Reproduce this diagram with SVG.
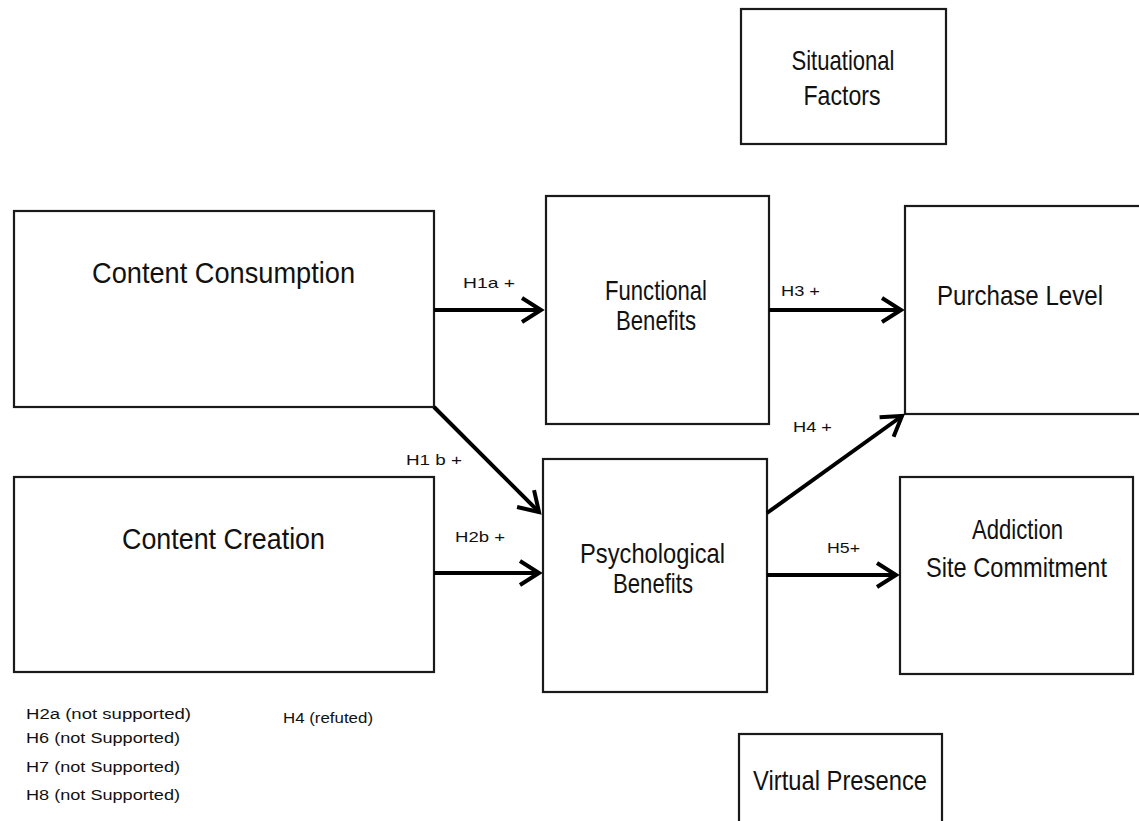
<svg xmlns="http://www.w3.org/2000/svg" width="1139" height="821" viewBox="0 0 1139 821">
<style>
.box{fill:#fff;stroke:#1a1a1a;stroke-width:2.2}
.t{font-family:"Liberation Sans",Arial,sans-serif;fill:#111;text-anchor:middle}
.big{font-size:30px}
.mid{font-size:28px}
.lab{font-family:"Liberation Sans",Arial,sans-serif;fill:#111;font-size:15px}
.note{font-family:"Liberation Sans",Arial,sans-serif;fill:#111;font-size:14px}
.c{stroke:#000;stroke-width:4;fill:none}
</style>
<defs>
<marker id="arr" markerUnits="userSpaceOnUse" markerWidth="40" markerHeight="40" viewBox="-30 -20 40 40" refX="0" refY="0" orient="auto" overflow="visible">
<path d="M-19,-12 L0,0 L-19,12" fill="none" stroke="#000" stroke-width="4" stroke-linejoin="miter" stroke-linecap="butt"/>
</marker>
</defs>
<rect width="1139" height="821" fill="#fff"/>

<g id="situational">
<rect class="box" x="741" y="9" width="205" height="135"/>
<text class="t mid" x="843" y="70" textLength="103" lengthAdjust="spacingAndGlyphs">Situational</text>
<text class="t mid" x="842" y="105" textLength="77" lengthAdjust="spacingAndGlyphs">Factors</text>
</g>

<g id="content-consumption">
<rect class="box" x="14" y="211" width="420" height="196"/>
<text class="t big" x="223.5" y="283" textLength="263" lengthAdjust="spacingAndGlyphs">Content  Consumption</text>
</g>

<g id="content-creation">
<rect class="box" x="14" y="477" width="420" height="195"/>
<text class="t big" x="223.5" y="549" textLength="203" lengthAdjust="spacingAndGlyphs">Content  Creation</text>
</g>

<g id="functional-benefits">
<rect class="box" x="546" y="196" width="223" height="228"/>
<text class="t mid" x="656" y="300" textLength="102" lengthAdjust="spacingAndGlyphs">Functional</text>
<text class="t mid" x="656" y="330" textLength="80" lengthAdjust="spacingAndGlyphs">Benefits</text>
</g>

<g id="psychological-benefits">
<rect class="box" x="543" y="459" width="224" height="233"/>
<text class="t mid" x="652.5" y="563" textLength="145" lengthAdjust="spacingAndGlyphs">Psychological</text>
<text class="t mid" x="653" y="593" textLength="80" lengthAdjust="spacingAndGlyphs">Benefits</text>
</g>

<g id="purchase-level">
<rect class="box" x="905" y="206" width="260" height="208"/>
<text class="t mid" x="1020" y="305" textLength="166" lengthAdjust="spacingAndGlyphs">Purchase Level</text>
</g>

<g id="addiction">
<rect class="box" x="900" y="477" width="233" height="197"/>
<text class="t mid" x="1017.5" y="539" textLength="91" lengthAdjust="spacingAndGlyphs">Addiction</text>
<text class="t mid" x="1016.5" y="577" textLength="181" lengthAdjust="spacingAndGlyphs">Site Commitment</text>
</g>

<g id="virtual-presence">
<rect class="box" x="739" y="734" width="203" height="120"/>
<text class="t mid" x="840" y="790" textLength="174" lengthAdjust="spacingAndGlyphs">Virtual  Presence</text>
</g>

<g id="connectors">
<line class="c" x1="434" y1="310" x2="541" y2="310" marker-end="url(#arr)"/>
<line class="c" x1="434" y1="407" x2="539" y2="512" marker-end="url(#arr)"/>
<line class="c" x1="434" y1="573" x2="539" y2="573" marker-end="url(#arr)"/>
<line class="c" x1="769" y1="310" x2="901" y2="310" marker-end="url(#arr)"/>
<line class="c" x1="767" y1="513" x2="902" y2="416" marker-end="url(#arr)"/>
<line class="c" x1="767" y1="575" x2="896" y2="575" marker-end="url(#arr)"/>
</g>

<g id="labels">
<text class="lab" x="463" y="288" textLength="52" lengthAdjust="spacingAndGlyphs">H1a  +</text>
<text class="lab" x="406" y="465" textLength="56" lengthAdjust="spacingAndGlyphs">H1 b +</text>
<text class="lab" x="455" y="542" textLength="50" lengthAdjust="spacingAndGlyphs">H2b  +</text>
<text class="lab" x="781" y="296" textLength="39" lengthAdjust="spacingAndGlyphs">H3 +</text>
<text class="lab" x="793" y="432" textLength="39" lengthAdjust="spacingAndGlyphs">H4  +</text>
<text class="lab" x="827" y="553" textLength="33" lengthAdjust="spacingAndGlyphs">H5+</text>
</g>

<g id="notes">
<text class="note" x="26" y="719" textLength="165" lengthAdjust="spacingAndGlyphs">H2a (not  supported)</text>
<text class="note" x="26" y="743" textLength="154" lengthAdjust="spacingAndGlyphs">H6 (not Supported)</text>
<text class="note" x="26" y="772" textLength="154" lengthAdjust="spacingAndGlyphs">H7 (not Supported)</text>
<text class="note" x="26" y="800" textLength="154" lengthAdjust="spacingAndGlyphs">H8 (not Supported)</text>
<text class="note" x="283" y="723" textLength="90" lengthAdjust="spacingAndGlyphs">H4 (refuted)</text>
</g>
</svg>
